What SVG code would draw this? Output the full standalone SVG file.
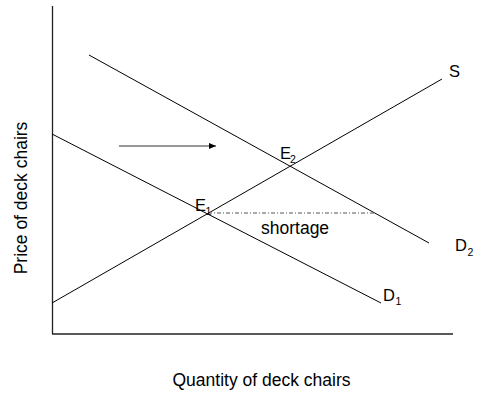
<svg xmlns="http://www.w3.org/2000/svg" width="479" height="396" viewBox="0 0 479 396">
<style>
.ln{stroke:#000;stroke-width:1;fill:none}
.ax{stroke:#222;stroke-width:1.3;fill:none}
.t{font-family:"Liberation Sans",Arial,sans-serif;fill:#000}
.lab{font-size:16.5px}
.sub{font-size:10.5px}
.big{font-size:17.5px}
</style>
<defs>
<marker id="ah" markerWidth="7" markerHeight="6" refX="7" refY="3" orient="auto" markerUnits="userSpaceOnUse">
<path d="M0,0 L7,3 L0,6 Z" fill="#000"/>
</marker>
</defs>
<rect width="479" height="396" fill="#fff"/>
<g id="axes">
<line class="ax" x1="52.5" y1="6" x2="52.5" y2="334"/>
<line class="ax" x1="52" y1="334" x2="453" y2="334"/>
</g>
<g id="connectors">
<line id="S" class="ln" x1="52" y1="303" x2="442" y2="79"/>
<line id="D1" class="ln" x1="52" y1="134" x2="381" y2="303"/>
<line id="D2" class="ln" x1="89" y1="55" x2="429" y2="243"/>
<line id="shortage-line" x1="208" y1="213" x2="374" y2="213" stroke="#555" stroke-width="1" stroke-dasharray="4 2 1 2"/>
<line id="shift-arrow" x1="119" y1="146" x2="216" y2="146" stroke="#333" stroke-width="1.2" marker-end="url(#ah)"/>
</g>
<g id="labels">
<text class="t lab" x="449" y="77">S</text>
<text class="t lab" x="280" y="159">E</text><text class="t sub" x="290" y="163">2</text>
<text class="t lab" x="195" y="210.5">E</text><text class="t sub" x="205.5" y="214.5">1</text>
<text class="t lab" x="455" y="251">D</text><text class="t sub" x="467.5" y="255.5">2</text>
<text class="t lab" x="383" y="300.5">D</text><text class="t sub" x="395.5" y="305">1</text>
<text class="t big" x="261" y="234">shortage</text>
<text class="t big" x="261.5" y="386" text-anchor="middle">Quantity of deck chairs</text>
<text class="t big" transform="translate(26.5,198) rotate(-90)" text-anchor="middle">Price of deck chairs</text>
</g>
</svg>
